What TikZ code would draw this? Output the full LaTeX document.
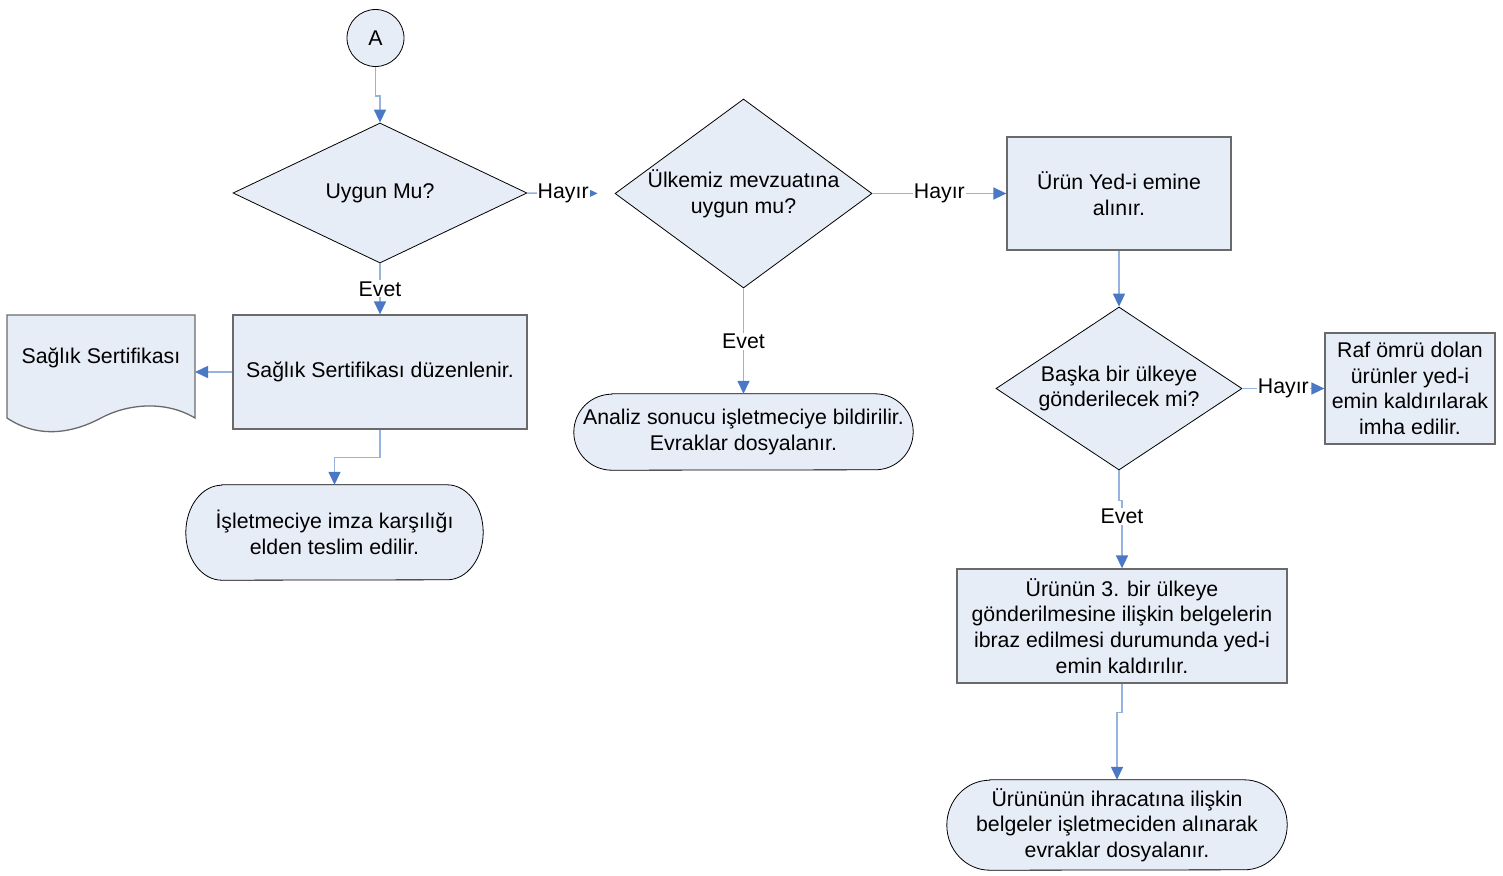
\documentclass[tikz,border=0pt]{standalone}
\usepackage{fontspec}
\setmainfont{Liberation Sans}
\usetikzlibrary{shapes.geometric,arrows.meta,backgrounds}
\definecolor{fillblue}{HTML}{E7EDF7}
\definecolor{lineblue}{HTML}{95B3DE}
\definecolor{arrowblue}{HTML}{4A78C4}
\definecolor{boxgray}{HTML}{6A6A6A}
\newcommand{\tshape}[3]{%
\begin{pgfonlayer}{background}
\draw[termline] ([xshift=#2]#1.north west) -- ([xshift=-#2]#1.north east)
  arc[start angle=90,end angle=-90,x radius=#2,y radius=#3]
  -- ([xshift=#2]#1.south west)
  arc[start angle=270,end angle=90,x radius=#2,y radius=#3] -- cycle;
\end{pgfonlayer}}
\begin{document}
\begin{tikzpicture}[x=1pt,y=-1pt,
 every node/.style={font=\fontsize{21.3}{25.7}\selectfont, text=black},
 box/.style={rectangle, draw=boxgray, fill=fillblue, line width=1.3pt, align=center, inner sep=2pt},
 termbox/.style={rectangle, align=center, inner sep=0pt},
 termline/.style={draw=black, fill=fillblue, line width=0.8pt},
 dia/.style={diamond, draw=black, fill=fillblue, line width=0.8pt, align=center, inner sep=0pt},
 conn/.style={draw=lineblue, line width=1.5pt, -{Triangle[color=arrowblue,length=13pt,width=12pt]}},
 smallconn/.style={draw=lineblue, line width=1.5pt, -{Triangle[color=arrowblue,length=9pt,width=8pt]}},
 lbl/.style={fill=white, inner sep=1pt}]
\useasboundingbox (0,0) rectangle (1503,875);

% document shape
\draw[draw=boxgray, fill=fillblue, line width=1.3pt] (7,315) -- (195,315) -- (195,418)
  .. controls (165,400) and (127,404) .. (101,418)
  .. controls (75,432) and (40,440) .. (7,418) -- cycle;
\node (doc) at (101,358) {Sağlık Sertifikası};
\coordinate (docE) at (195,372);

\node[circle, draw=black, fill=fillblue, line width=0.8pt, minimum size=57pt, inner sep=0pt] (a) at (375.5,38) {A};
\node[dia, minimum width=294pt, minimum height=140pt, aspect=2.1] (d1) at (380,193) {Uygun Mu?};
\node[box, minimum width=294pt, minimum height=114pt] (r1) at (380,372) {Sağlık Sertifikası düzenlenir.};
\node[termbox, minimum width=297pt, minimum height=95pt] (t1) at (334.5,532.5) {İşletmeciye imza karşılığı\\elden teslim edilir.};
\tshape{t1}{36pt}{47.5pt}

\node[dia, minimum width=257pt, minimum height=189pt, aspect=1.36] (d2) at (743.5,193.5) {Ülkemiz mevzuatına\\uygun mu?};
\node[termbox, minimum width=339pt, minimum height=76pt] (t2) at (743.5,432) {Analiz sonucu işletmeciye bildirilir.\\Evraklar dosyalanır.};
\tshape{t2}{38pt}{38pt}

\node[box, minimum width=224pt, minimum height=113pt] (r2) at (1119,193.5) {Ürün Yed-i emine\\alınır.};
\node[dia, minimum width=246pt, minimum height=163pt, aspect=1.51] (d3) at (1119,388.5) {Başka bir ülkeye\\gönderilecek mi?};
\node[box, minimum width=170pt, minimum height=111pt] (r5) at (1410,388.5) {Raf ömrü dolan\\ürünler yed-i\\emin kaldırılarak\\imha edilir.};
\node[box, minimum width=330pt, minimum height=114pt] (r4) at (1122,626) {Ürünün 3. bir ülkeye\\gönderilmesine ilişkin belgelerin\\ibraz edilmesi durumunda yed-i\\emin kaldırılır.};
\node[termbox, minimum width=340pt, minimum height=90pt] (t3) at (1117,825) {Ürününün ihracatına ilişkin\\belgeler işletmeciden alınarak\\evraklar dosyalanır.};
\tshape{t3}{43pt}{45pt}

% connectors
\draw[conn] (a.south) -- ++(0,29) -| (d1.north);
\draw[smallconn, shorten >=17pt] (d1.east) -- node[lbl, pos=0.41] {Hayır} (d2.west);
\draw[conn] (d1.south) -- node[lbl] {Evet} (r1.north);
\draw[conn] (r1.west) -- (docE);
\draw[conn] (r1.south) -- ++(0,28) -| (t1.north);
\draw[conn] (d2.south) -- node[lbl] {Evet} (t2.north);
\draw[conn] (d2.east) -- node[lbl] {Hayır} (r2.west);
\draw[conn] (r2.south) -- (d3.north);
\draw[conn] (d3.east) -- node[lbl] {Hayır} (r5.west);
\draw[conn] (d3.south) -- ++(0,30) -| node[lbl, pos=0.62] {Evet} (r4.north);
\draw[conn] (r4.south) -- ++(0,29) -| (t3.north);
\end{tikzpicture}
\end{document}
